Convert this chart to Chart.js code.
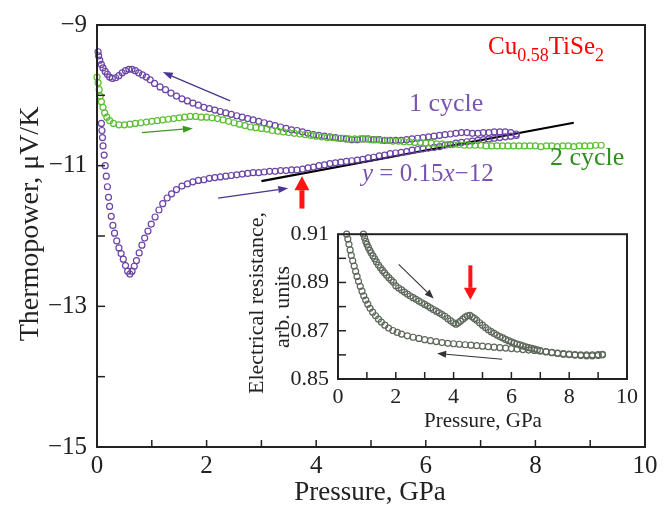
<!DOCTYPE html>
<html>
<head>
<meta charset="utf-8">
<script src="https://cdn.jsdelivr.net/npm/chart.js@4.4.1/dist/chart.umd.min.js"></script>
<style>
  body { margin: 0; background: #fff; }
  #marco { position: relative; width: 670px; height: 510px; }
  #grafico { position: absolute; left: 0; top: 0; }
  #inserto { position: absolute; left: 230px; top: 212px; }
</style>
</head>
<body>
<div id="marco">
  <canvas id="grafico" width="670" height="510"></canvas>
  <canvas id="inserto" width="430" height="228"></canvas>
</div>
<script>
// ---- datos principales (termopotencia) ----
// ciclo 1, subida de presion (rama inferior)
const ciclo1SubidaX = [0.08,0.09,0.10,0.11,0.13,0.15,0.17,0.19,0.21,0.23,0.26,0.29,0.32,0.36,0.40,0.44,0.48,0.52,0.56,0.60,0.64,0.68,0.72,0.77,0.82,0.87,0.93,0.99,1.06,1.13,1.20,1.28,1.36,1.45,1.55,1.65,1.75,1.85,1.95,2.05,2.15,2.25,2.35,2.45,2.55,2.65,2.75,2.85,2.95,3.05,3.15,3.25,3.35,3.45,3.55,3.65,3.75,3.85,3.95,4.05,4.15,4.25,4.35,4.45,4.55,4.65,4.75,4.85,4.95,5.05,5.15,5.25,5.35,5.45,5.55,5.65,5.75,5.85,5.95,6.05,6.15,6.25,6.35,6.45,6.55,6.65,6.75,6.85,6.95,7.05,7.15,7.25,7.35,7.45,7.55,7.65];
const ciclo1SubidaY = [-10.40,-10.50,-10.60,-10.72,-10.85,-11.00,-11.15,-11.30,-11.45,-11.58,-11.72,-11.85,-11.96,-12.07,-12.17,-12.25,-12.33,-12.42,-12.50,-12.54,-12.50,-12.43,-12.35,-12.24,-12.13,-12.03,-11.93,-11.83,-11.73,-11.63,-11.54,-11.46,-11.40,-11.34,-11.29,-11.26,-11.23,-11.21,-11.20,-11.18,-11.17,-11.16,-11.15,-11.14,-11.13,-11.12,-11.11,-11.10,-11.10,-11.09,-11.08,-11.08,-11.07,-11.07,-11.06,-11.06,-11.05,-11.03,-11.02,-11.00,-10.99,-10.97,-10.96,-10.95,-10.94,-10.93,-10.92,-10.91,-10.89,-10.88,-10.86,-10.85,-10.83,-10.82,-10.81,-10.80,-10.78,-10.77,-10.76,-10.75,-10.74,-10.73,-10.71,-10.70,-10.68,-10.67,-10.66,-10.65,-10.64,-10.63,-10.62,-10.61,-10.60,-10.59,-10.58,-10.57];
// ciclo 1, bajada de presion (rama superior)
const ciclo1BajadaX = [7.65,7.55,7.45,7.35,7.25,7.15,7.05,6.95,6.85,6.75,6.65,6.55,6.45,6.35,6.25,6.15,6.05,5.95,5.85,5.75,5.65,5.55,5.45,5.35,5.25,5.15,5.05,4.95,4.85,4.75,4.65,4.55,4.45,4.35,4.25,4.15,4.05,3.95,3.85,3.75,3.65,3.55,3.45,3.35,3.25,3.15,3.05,2.95,2.85,2.75,2.65,2.55,2.45,2.35,2.25,2.15,2.05,1.95,1.85,1.75,1.65,1.55,1.45,1.35,1.25,1.15,1.05,0.97,0.90,0.83,0.76,0.70,0.64,0.58,0.52,0.46,0.40,0.34,0.28,0.23,0.19,0.15,0.11,0.08,0.05,0.03,0.02];
const ciclo1BajadaY = [-10.55,-10.53,-10.52,-10.52,-10.52,-10.53,-10.53,-10.54,-10.54,-10.53,-10.53,-10.54,-10.55,-10.56,-10.57,-10.58,-10.59,-10.60,-10.61,-10.62,-10.63,-10.64,-10.64,-10.64,-10.64,-10.63,-10.63,-10.62,-10.62,-10.63,-10.63,-10.62,-10.61,-10.60,-10.59,-10.58,-10.57,-10.56,-10.54,-10.52,-10.50,-10.49,-10.47,-10.45,-10.43,-10.41,-10.39,-10.37,-10.35,-10.33,-10.31,-10.29,-10.27,-10.25,-10.23,-10.21,-10.19,-10.17,-10.14,-10.11,-10.08,-10.05,-10.01,-9.97,-9.92,-9.88,-9.83,-9.78,-9.74,-9.71,-9.68,-9.65,-9.63,-9.63,-9.65,-9.68,-9.72,-9.75,-9.76,-9.74,-9.70,-9.66,-9.61,-9.56,-9.50,-9.44,-9.38];
// ciclo 2
const ciclo2X = [0.00,0.02,0.04,0.06,0.08,0.11,0.14,0.18,0.23,0.30,0.40,0.50,0.60,0.70,0.80,0.90,1.00,1.10,1.20,1.30,1.40,1.50,1.60,1.70,1.80,1.90,2.00,2.10,2.20,2.30,2.40,2.50,2.60,2.70,2.80,2.90,3.00,3.10,3.20,3.30,3.40,3.50,3.60,3.70,3.80,3.90,4.00,4.10,4.20,4.30,4.40,4.50,4.60,4.70,4.80,4.90,5.00,5.10,5.20,5.30,5.40,5.50,5.60,5.70,5.80,5.90,6.00,6.10,6.20,6.30,6.40,6.50,6.60,6.70,6.80,6.90,7.00,7.10,7.20,7.30,7.40,7.50,7.60,7.70,7.80,7.90,8.00,8.10,8.20,8.30,8.40,8.50,8.60,8.70,8.80,8.90,9.00,9.10,9.20];
const ciclo2Y = [-9.74,-9.82,-9.92,-10.01,-10.09,-10.17,-10.25,-10.31,-10.36,-10.40,-10.42,-10.42,-10.41,-10.40,-10.39,-10.38,-10.37,-10.36,-10.35,-10.34,-10.33,-10.32,-10.31,-10.30,-10.30,-10.31,-10.31,-10.32,-10.33,-10.35,-10.37,-10.39,-10.41,-10.43,-10.45,-10.46,-10.47,-10.48,-10.50,-10.51,-10.52,-10.53,-10.54,-10.55,-10.56,-10.57,-10.58,-10.59,-10.60,-10.60,-10.61,-10.61,-10.62,-10.62,-10.62,-10.62,-10.63,-10.63,-10.64,-10.64,-10.65,-10.65,-10.66,-10.66,-10.67,-10.67,-10.68,-10.68,-10.69,-10.69,-10.70,-10.70,-10.70,-10.71,-10.71,-10.71,-10.71,-10.72,-10.72,-10.72,-10.72,-10.72,-10.72,-10.72,-10.72,-10.72,-10.72,-10.73,-10.72,-10.72,-10.73,-10.72,-10.72,-10.73,-10.72,-10.72,-10.72,-10.71,-10.71];
// recta de ajuste y = 0.15x - 12
const ajusteX = [3.0, 8.7];
const ajusteY = [-11.22, -10.39];

// ---- datos del inserto (resistencia) ----
const resSubidaX = [0.88,0.92,0.96,1.00,1.05,1.10,1.15,1.21,1.27,1.33,1.40,1.47,1.54,1.61,1.68,1.76,1.84,1.92,2.00,2.10,2.20,2.30,2.40,2.50,2.60,2.70,2.80,2.90,3.00,3.10,3.20,3.30,3.40,3.50,3.60,3.70,3.80,3.90,4.00,4.08,4.16,4.24,4.32,4.40,4.48,4.56,4.64,4.72,4.80,4.90,5.00,5.10,5.20,5.30,5.40,5.50,5.60,5.70,5.80,5.90,6.00,6.10,6.20,6.30,6.40,6.50,6.60,6.70,6.80,6.90,7.00,7.20,7.40,7.60,7.80,8.00,8.20,8.40,8.60,8.80,9.00,9.15];
const resSubidaY = [0.9100,0.9085,0.9070,0.9058,0.9045,0.9033,0.9022,0.9010,0.8998,0.8985,0.8972,0.8961,0.8950,0.8940,0.8930,0.8920,0.8910,0.8901,0.8886,0.8877,0.8869,0.8860,0.8852,0.8844,0.8837,0.8830,0.8823,0.8816,0.8809,0.8802,0.8795,0.8788,0.8781,0.8774,0.8767,0.8760,0.8750,0.8741,0.8733,0.8727,0.8733,0.8740,0.8748,0.8756,0.8762,0.8764,0.8758,0.8751,0.8743,0.8733,0.8723,0.8713,0.8704,0.8696,0.8689,0.8682,0.8676,0.8670,0.8664,0.8659,0.8654,0.8649,0.8645,0.8641,0.8637,0.8633,0.8630,0.8627,0.8624,0.8621,0.8618,0.8614,0.8610,0.8607,0.8605,0.8603,0.8601,0.8600,0.8600,0.8600,0.8601,0.8602];
const resBajadaX = [9.15,9.00,8.80,8.60,8.40,8.20,8.00,7.80,7.60,7.40,7.20,7.00,6.80,6.60,6.40,6.20,6.00,5.80,5.60,5.40,5.20,5.00,4.80,4.60,4.40,4.20,4.00,3.80,3.60,3.40,3.20,3.00,2.80,2.60,2.40,2.20,2.05,1.90,1.75,1.62,1.50,1.40,1.30,1.20,1.11,1.03,0.96,0.89,0.83,0.77,0.71,0.66,0.61,0.56,0.51,0.46,0.42,0.38,0.34,0.30];
const resBajadaY = [0.8600,0.8597,0.8596,0.8596,0.8597,0.8599,0.8601,0.8603,0.8606,0.8609,0.8612,0.8615,0.8618,0.8620,0.8622,0.8624,0.8626,0.8628,0.8630,0.8632,0.8634,0.8636,0.8638,0.8640,0.8642,0.8644,0.8646,0.8648,0.8651,0.8655,0.8659,0.8663,0.8668,0.8673,0.8679,0.8686,0.8693,0.8701,0.8711,0.8723,0.8736,0.8748,0.8762,0.8777,0.8793,0.8810,0.8827,0.8845,0.8864,0.8884,0.8905,0.8925,0.8946,0.8968,0.8990,0.9012,0.9035,0.9058,0.9080,0.9100];

// etiquetas de ejes
const ticksPrincipalY = [-9, -11, -13, -15];
const ticksPrincipalX = [0, 2, 4, 6, 8, 10];
const ticksInsertoY = [0.91, 0.89, 0.87, 0.85];
const ticksInsertoX = [0, 2, 4, 6, 8, 10];

const morado = "#6a44a6";
const verde = "#5bbf33";
const gris = "#5d685b";
const serif = "'Liberation Serif', 'Times New Roman', serif";

Chart.defaults.font.family = serif;
Chart.defaults.color = "#222";

function puntos(xs, ys) {
  return xs.map((x, i) => ({ x: x, y: ys[i] }));
}

function flecha(ctx, x1, y1, x2, y2, color, ancho, largoPunta, anchoPunta) {
  const ang = Math.atan2(y2 - y1, x2 - x1);
  const bx = x2 - Math.cos(ang) * largoPunta;
  const by = y2 - Math.sin(ang) * largoPunta;
  ctx.strokeStyle = color;
  ctx.fillStyle = color;
  ctx.lineWidth = ancho;
  ctx.beginPath();
  ctx.moveTo(x1, y1);
  ctx.lineTo(bx, by);
  ctx.stroke();
  ctx.beginPath();
  ctx.moveTo(x2, y2);
  ctx.lineTo(bx + Math.sin(ang) * anchoPunta / 2, by - Math.cos(ang) * anchoPunta / 2);
  ctx.lineTo(bx - Math.sin(ang) * anchoPunta / 2, by + Math.cos(ang) * anchoPunta / 2);
  ctx.closePath();
  ctx.fill();
}

function dibujarMarco(chart, menoresX, menoresY) {
  const ctx = chart.ctx;
  const a = chart.chartArea;
  ctx.strokeStyle = "#222";
  ctx.lineWidth = 1.5;
  menoresX.forEach(v => {
    const px = chart.scales.x.getPixelForValue(v);
    ctx.beginPath(); ctx.moveTo(px, a.bottom); ctx.lineTo(px, a.bottom - 7); ctx.stroke();
  });
  menoresY.forEach(v => {
    const py = chart.scales.y.getPixelForValue(v);
    ctx.beginPath(); ctx.moveTo(a.left, py); ctx.lineTo(a.left + 8, py); ctx.stroke();
  });
  ctx.lineWidth = 2;
  ctx.strokeRect(a.left, a.top, a.right - a.left, a.bottom - a.top);
}

const decoracionPrincipal = {
  id: "decoracionPrincipal",
  afterDraw(chart) {
    const ctx = chart.ctx;
    const sx = chart.scales.x;
    const sy = chart.scales.y;
    ctx.save();
    dibujarMarco(chart, [1,2,3,4,5,6,7,8,9], [-10,-11,-12,-13,-14]);

    // flechas
    const px = v => sx.getPixelForValue(v);
    const py = v => sy.getPixelForValue(v);
    flecha(ctx, px(2.43), py(-10.08), px(1.2), py(-9.67), "#4a3591", 1.3, 10, 7);
    flecha(ctx, px(0.82), py(-10.53), px(1.75), py(-10.47), "#3a9a1e", 1.3, 10, 7);
    flecha(ctx, px(2.21), py(-11.46), px(3.49), py(-11.32), "#4a3591", 1.3, 10, 7);
    flecha(ctx, px(3.74), py(-11.61), px(3.74), py(-11.15), "#ff1414", 5, 14, 15);

    // textos
    ctx.textBaseline = "alphabetic";
    ctx.textAlign = "left";
    ctx.fillStyle = "#ff0000";
    let x = 488;
    const partes = [["Cu", 25, 0], ["0.58", 18, 7], ["TiSe", 25, 0], ["2", 18, 7]];
    partes.forEach(p => {
      ctx.font = p[1] + "px " + serif;
      ctx.fillText(p[0], x, 54 + p[2]);
      x += ctx.measureText(p[0]).width;
    });

    ctx.font = "26px " + serif;
    ctx.fillStyle = "#7a55b0";
    ctx.fillText("1 cycle", 409, 111);
    ctx.fillStyle = "#2f8f1f";
    ctx.fillText("2 cycle", 550, 165);

    ctx.fillStyle = "#7a55b0";
    x = 362;
    const ecuacion = [["y", true], [" = 0.15", false], ["x", true], ["\u2212", false], ["12", false]];
    ecuacion.forEach(p => {
      ctx.font = (p[1] ? "italic " : "") + "25px " + serif;
      ctx.fillText(p[0], x, 181);
      x += ctx.measureText(p[0]).width;
    });

    // titulos de ejes
    ctx.fillStyle = "#222";
    ctx.font = "27px " + serif;
    ctx.textAlign = "center";
    ctx.textBaseline = "middle";
    ctx.fillText("Pressure, GPa", 370, 493);
    ctx.translate(31, 224);
    ctx.rotate(-Math.PI / 2);
    ctx.font = "28px " + serif;
    ctx.fillText("Thermopower, \u03bcV/K", 0, 0);
    ctx.restore();
  }
};

const decoracionInserto = {
  id: "decoracionInserto",
  afterDraw(chart) {
    const ctx = chart.ctx;
    const sx = chart.scales.x;
    const sy = chart.scales.y;
    ctx.save();
    dibujarMarco(chart, [1,2,3,4,5,6,7,8,9], [0.86,0.87,0.88,0.89,0.90]);

    const px = v => sx.getPixelForValue(v);
    const py = v => sy.getPixelForValue(v);
    flecha(ctx, px(2.1), py(0.8975), px(3.31), py(0.8834), "#333", 1.1, 9, 7);
    flecha(ctx, px(5.68), py(0.8582), px(3.43), py(0.8606), "#333", 1.1, 9, 7);
    flecha(ctx, px(4.58), py(0.8971), px(4.58), py(0.8828), "#ff1414", 4, 12, 13);

    // titulos (coordenadas locales del lienzo del inserto)
    ctx.fillStyle = "#222";
    ctx.font = "21px " + serif;
    ctx.textAlign = "center";
    ctx.textBaseline = "middle";
    ctx.fillText("Pressure, GPa", 253, 209);
    ctx.font = "22px " + serif;
    ctx.save();
    ctx.translate(27, 91);
    ctx.rotate(-Math.PI / 2);
    ctx.fillText("Electrical resistance,", 0, 0);
    ctx.restore();
    ctx.save();
    ctx.translate(53, 95);
    ctx.rotate(-Math.PI / 2);
    ctx.fillText("arb. units", 0, 0);
    ctx.restore();
    ctx.restore();
  }
};

function serieMarcadores(etiqueta, xs, ys, color) {
  return {
    label: etiqueta,
    data: puntos(xs, ys),
    showLine: false,
    borderColor: color,
    backgroundColor: "rgba(0,0,0,0)",
    pointRadius: 3,
    pointBorderWidth: 1.2,
    clip: 6
  };
}

const grafico = document.getElementById("grafico");
new Chart(grafico, {
  type: "scatter",
  data: {
    datasets: [
      serieMarcadores("2 cycle", ciclo2X, ciclo2Y, verde),
      serieMarcadores("1 cycle subida", ciclo1SubidaX, ciclo1SubidaY, morado),
      serieMarcadores("1 cycle bajada", ciclo1BajadaX, ciclo1BajadaY, morado),
      {
        label: "y = 0.15x - 12",
        data: puntos(ajusteX, ajusteY),
        showLine: true,
        borderColor: "#000",
        borderWidth: 2.2,
        pointRadius: 0
      }
    ]
  },
  options: {
    responsive: false,
    animation: false,
    layout: { padding: { left: 0, right: 25, top: 20, bottom: 0 } },
    plugins: { legend: { display: false }, tooltip: { enabled: false } },
    scales: {
      x: {
        type: "linear",
        min: 0,
        max: 10,
        afterBuildTicks: s => { s.ticks = ticksPrincipalX.map(v => ({ value: v })); },
        ticks: {
          padding: 4,
          maxRotation: 0,
          color: "#222",
          font: { family: serif, size: 25 },
          callback: v => String(v)
        },
        grid: { display: false, drawTicks: false },
        border: { display: false },
        afterFit: s => { s.height = 63; }
      },
      y: {
        type: "linear",
        min: -15,
        max: -9,
        afterBuildTicks: s => { s.ticks = ticksPrincipalY.map(v => ({ value: v })); },
        ticks: {
          padding: 10,
          color: "#222",
          font: { family: serif, size: 25 },
          callback: v => "\u2212" + Math.abs(v)
        },
        grid: { display: false, drawTicks: false },
        border: { display: false },
        afterFit: s => { s.width = 97; }
      }
    }
  },
  plugins: [decoracionPrincipal]
});

const inserto = document.getElementById("inserto");
new Chart(inserto, {
  type: "scatter",
  data: {
    datasets: [
      serieMarcadores("subida", resSubidaX, resSubidaY, gris),
      serieMarcadores("bajada", resBajadaX, resBajadaY, gris)
    ]
  },
  options: {
    responsive: false,
    animation: false,
    layout: { padding: { left: 0, right: 33, top: 21, bottom: 0 } },
    plugins: { legend: { display: false }, tooltip: { enabled: false } },
    scales: {
      x: {
        type: "linear",
        min: 0,
        max: 10,
        afterBuildTicks: s => { s.ticks = ticksInsertoX.map(v => ({ value: v })); },
        ticks: {
          padding: 5,
          maxRotation: 0,
          color: "#222",
          font: { family: serif, size: 22 },
          callback: v => String(v)
        },
        grid: { display: false, drawTicks: false },
        border: { display: false },
        afterFit: s => { s.height = 61; }
      },
      y: {
        type: "linear",
        min: 0.85,
        max: 0.91,
        afterBuildTicks: s => { s.ticks = ticksInsertoY.map(v => ({ value: v })); },
        ticks: {
          padding: 9,
          color: "#222",
          font: { family: serif, size: 22 },
          callback: v => v.toFixed(2)
        },
        grid: { display: false, drawTicks: false },
        border: { display: false },
        afterFit: s => { s.width = 108; }
      }
    }
  },
  plugins: [decoracionInserto]
});
</script>
</body>
</html>
